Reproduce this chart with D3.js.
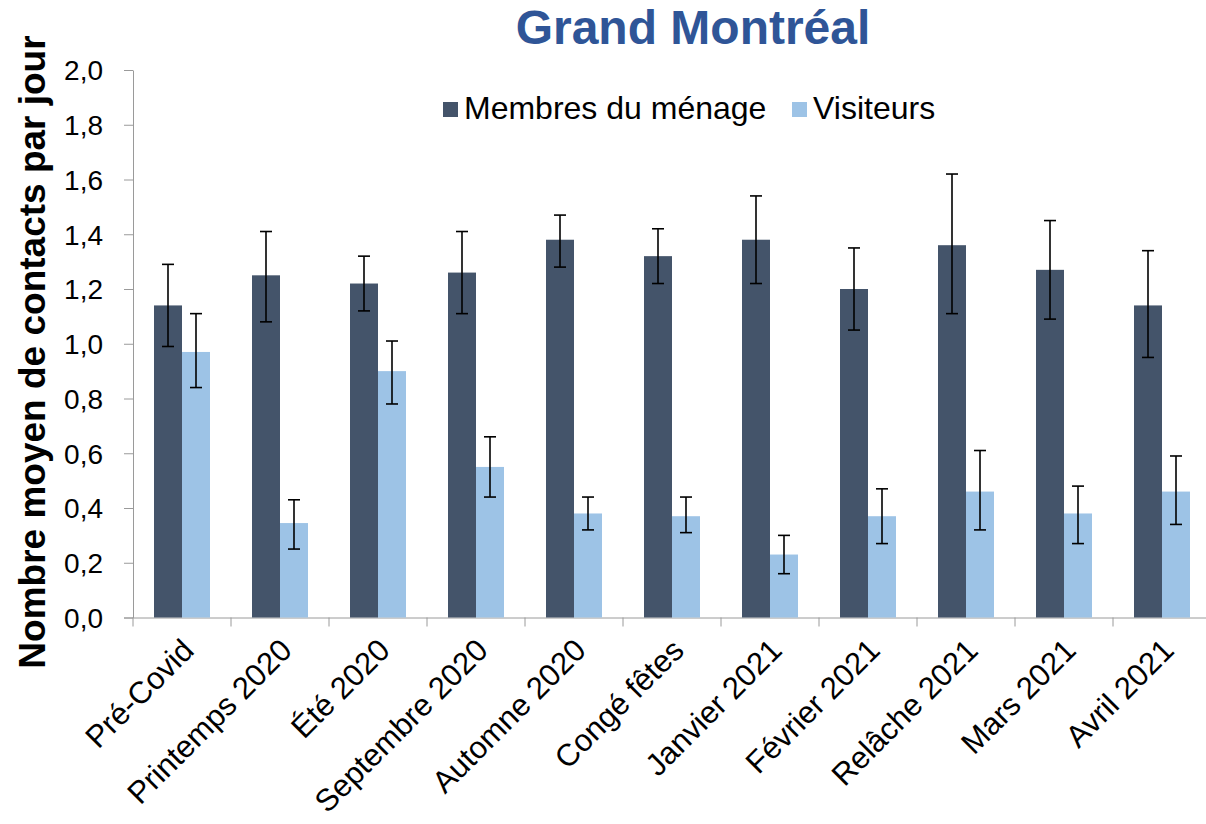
<!DOCTYPE html>
<html>
<head>
<meta charset="utf-8">
<script src="https://cdn.jsdelivr.net/npm/d3@7"></script>
<style>
  body { margin: 0; background: white; }
  svg { font-family: Arial, "Liberation Sans", sans-serif; }
  .axis path, .axis line { stroke: #9a9a9a; }
</style>
</head>
<body>
<svg id="chart" width="1206" height="824"></svg>
<script>
  const categories = ["Pré-Covid", "Printemps 2020", "Été 2020", "Septembre 2020", "Automne 2020",
    "Congé fêtes", "Janvier 2021", "Février 2021", "Relâche 2021", "Mars 2021", "Avril 2021"];
  const seriesNames = ["Membres du ménage", "Visiteurs"];

  const menage = [1.14, 1.25, 1.22, 1.26, 1.38, 1.32, 1.38, 1.20, 1.36, 1.27, 1.14];
  const menageLow = [0.99, 1.08, 1.12, 1.11, 1.28, 1.22, 1.22, 1.05, 1.11, 1.09, 0.95];
  const menageHigh = [1.29, 1.41, 1.32, 1.41, 1.47, 1.42, 1.54, 1.35, 1.62, 1.45, 1.34];

  const visiteurs = [0.97, 0.345, 0.90, 0.55, 0.38, 0.37, 0.23, 0.37, 0.46, 0.38, 0.46];
  const visiteursLow = [0.84, 0.25, 0.78, 0.44, 0.32, 0.31, 0.16, 0.27, 0.32, 0.27, 0.34];
  const visiteursHigh = [1.11, 0.43, 1.01, 0.66, 0.44, 0.44, 0.30, 0.47, 0.61, 0.48, 0.59];

  const yTicks = [0, 0.2, 0.4, 0.6, 0.8, 1.0, 1.2, 1.4, 1.6, 1.8, 2.0];
  const colors = ["#44546a", "#9dc3e6"];

  const svg = d3.select("#chart");
  const margin = { top: 70, left: 133 };
  const plotW = 1078, plotH = 547.5;

  const g = svg.append("g")
    .attr("transform", `translate(${margin.left},${margin.top})`);

  const x = d3.scaleBand()
    .domain(categories)
    .range([0, plotW])
    .paddingInner(0)
    .paddingOuter(0);

  const barW = 28;
  const groupOff = (x.bandwidth() - 2 * barW) / 2;

  const y = d3.scaleLinear().domain([0, 2]).range([plotH, 0]);

  // y axis
  const yAxis = g.append("g")
    .attr("class", "axis")
    .call(d3.axisLeft(y).tickValues(yTicks).tickSize(9).tickSizeOuter(0)
      .tickFormat(d => d3.format(".1f")(d).replace(".", ",")));
  yAxis.selectAll("text")
    .attr("font-size", 28)
    .attr("fill", "#000")
    .attr("x", -30)
    .attr("dy", "0.35em");

  // x axis
  const xAxis = g.append("g")
    .attr("class", "axis")
    .attr("transform", `translate(0,${plotH})`)
    .call(d3.axisBottom(x).tickSize(0).tickSizeOuter(0).tickFormat(""));
  xAxis.select(".domain").attr("d", `M-9,0.5H${plotW}`);

  g.append("g")
    .selectAll("line")
    .data(d3.range(categories.length + 1))
    .join("line")
    .attr("x1", i => i * x.step())
    .attr("x2", i => i * x.step())
    .attr("y1", plotH)
    .attr("y2", plotH + 9)
    .attr("stroke", "#9a9a9a");

  g.append("g")
    .selectAll("text")
    .data(categories)
    .join("text")
    .attr("transform", d => `translate(${x(d) + x.bandwidth() / 2 + 6},${plotH + 27}) rotate(-45)`)
    .attr("text-anchor", "end")
    .attr("font-size", 31)
    .attr("dy", "0.35em")
    .text(d => d);

  // bars
  const series = [
    { vals: menage, lo: menageLow, hi: menageHigh, color: colors[0], idx: 0 },
    { vals: visiteurs, lo: visiteursLow, hi: visiteursHigh, color: colors[1], idx: 1 }
  ];

  series.forEach(s => {
    const data = categories.map((c, i) => ({ c, v: s.vals[i], lo: s.lo[i], hi: s.hi[i] }));
    const bx = d => x(d.c) + groupOff + s.idx * barW;

    g.append("g")
      .selectAll("rect")
      .data(data)
      .join("rect")
      .attr("x", bx)
      .attr("y", d => y(d.v))
      .attr("width", barW)
      .attr("height", d => plotH - y(d.v))
      .attr("fill", s.color);

    const eb = g.append("g")
      .attr("stroke", "#000")
      .attr("stroke-width", 1.6);
    eb.selectAll("line.v")
      .data(data)
      .join("line")
      .attr("class", "v")
      .attr("x1", d => bx(d) + barW / 2)
      .attr("x2", d => bx(d) + barW / 2)
      .attr("y1", d => y(d.lo))
      .attr("y2", d => y(d.hi));
    ["lo", "hi"].forEach(k => {
      eb.selectAll("line." + k)
        .data(data)
        .join("line")
        .attr("class", k)
        .attr("x1", d => bx(d) + barW / 2 - 6)
        .attr("x2", d => bx(d) + barW / 2 + 6)
        .attr("y1", d => y(d[k]))
        .attr("y2", d => y(d[k]));
    });
  });

  // title
  svg.append("text")
    .attr("x", 693)
    .attr("y", 44)
    .attr("text-anchor", "middle")
    .attr("font-size", 48)
    .attr("font-weight", "bold")
    .attr("fill", "#2f5597")
    .text("Grand Montréal");

  // y axis title
  svg.append("text")
    .attr("transform", "translate(45,352) rotate(-90)")
    .attr("text-anchor", "middle")
    .attr("font-size", 37)
    .attr("font-weight", "bold")
    .text("Nombre moyen de contacts par jour");

  // legend
  const legendPos = [443, 792];
  const legend = svg.append("g");
  seriesNames.forEach((n, i) => {
    legend.append("rect")
      .attr("x", legendPos[i])
      .attr("y", 102)
      .attr("width", 15)
      .attr("height", 15)
      .attr("fill", colors[i]);
    legend.append("text")
      .attr("x", legendPos[i] + 21)
      .attr("y", 119)
      .attr("font-size", 32)
      .text(n);
  });
</script>
</body>
</html>
